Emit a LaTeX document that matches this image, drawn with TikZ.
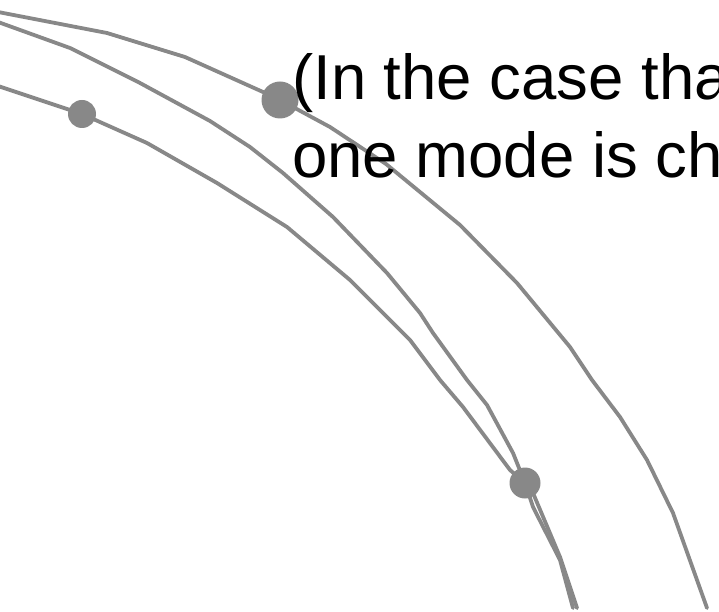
\documentclass[tikz,border=0pt]{standalone}
\usepackage{fontspec}
\setmainfont{Liberation Sans}
\definecolor{curvegray}{HTML}{888888}
\begin{document}
\begin{tikzpicture}[x=1pt,y=-1pt,
  curve/.style={draw=curvegray,line width=3.8pt,line join=round,line cap=round},
  dot/.style={circle,fill=curvegray,inner sep=0pt,minimum size=#1},
  label/.style={anchor=base west,inner sep=0pt,font=\fontsize{63.5}{78}\selectfont}]
\useasboundingbox (0,0) rectangle (719,612);
% dot positions
\coordinate (pA) at (280,100);
\coordinate (pC) at (82,114);
\coordinate (pX) at (525,483);
% outer curve
\draw[curve] (-2,12) -- (107,33) -- (185,57) -- (263,92) -- (pA) -- (330,127) -- (386,164) -- (460,225) -- (517,283) -- (570,347) -- (592,380) -- (620,417) -- (647,460) -- (673,513) -- (707,608);
% middle curve
\draw[curve] (-2,22) -- (70,48) -- (140,83) -- (210,121) -- (250,147) -- (283,173) -- (333,217) -- (387,273) -- (420,313) -- (433,333) -- (467,380) -- (487,405) -- (513,453) -- (pX) -- (533,493) -- (560,557) -- (577,608);
% inner curve
\draw[curve] (-2,86) -- (pC) -- (147,143) -- (217,183) -- (287,227) -- (350,280) -- (400,330) -- (410,340) -- (440,380) -- (463,407) -- (510,470) -- (pX) -- (533,507) -- (560,560) -- (573,608);
% dots
\node[dot=37pt] (dA) at (pA) {};
\node[dot=28pt] (dC) at (pC) {};
\node[dot=31pt] (dX) at (pX) {};
% text
\node[label] (txt1) at (292,100) {(In the case tha};
\node[label] (txt2) at (292,178) {one mode is ch};
\end{tikzpicture}
\end{document}
